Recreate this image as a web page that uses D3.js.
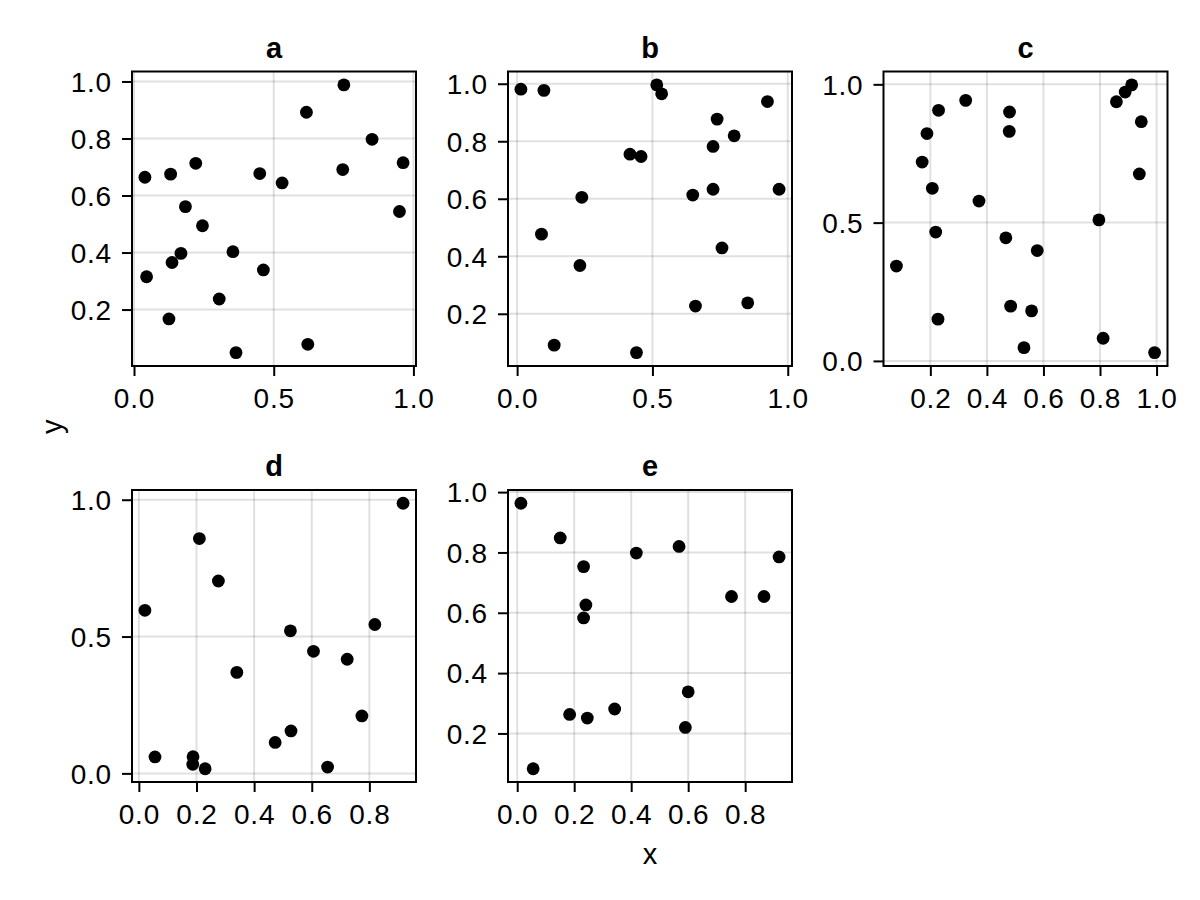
<!DOCTYPE html>
<html>
<head>
<meta charset="utf-8">
<script src="https://cdn.jsdelivr.net/npm/d3@7"></script>
<style>
  html, body { margin: 0; padding: 0; background: #fff; }
  svg { display: block; font-family: "Liberation Sans", Arial, "Helvetica", sans-serif; }
</style>
</head>
<body>
<svg id="chart" width="1200" height="900"></svg>
<script>
// ---- data ----
const panelNames = ["a", "b", "c", "d", "e"];

const aX = [0.039, 0.045, 0.131, 0.125, 0.136, 0.168, 0.184, 0.221, 0.245, 0.305, 0.354, 0.365, 0.450, 0.463, 0.530, 0.617, 0.622, 0.751, 0.747, 0.852, 0.963, 0.950];
const aY = [0.664, 0.315, 0.675, 0.167, 0.365, 0.397, 0.561, 0.713, 0.494, 0.237, 0.403, 0.049, 0.677, 0.339, 0.644, 0.892, 0.078, 0.988, 0.691, 0.797, 0.715, 0.544];

const bX = [0.014, 0.099, 0.090, 0.137, 0.239, 0.232, 0.417, 0.458, 0.441, 0.516, 0.534, 0.649, 0.659, 0.724, 0.739, 0.724, 0.802, 0.757, 0.852, 0.925, 0.968];
const bY = [0.981, 0.977, 0.477, 0.091, 0.605, 0.368, 0.755, 0.747, 0.065, 0.996, 0.965, 0.613, 0.227, 0.782, 0.877, 0.633, 0.819, 0.429, 0.238, 0.938, 0.633];

const cX = [0.080, 0.171, 0.188, 0.207, 0.219, 0.229, 0.227, 0.325, 0.372, 0.467, 0.480, 0.479, 0.484, 0.531, 0.558, 0.578, 0.796, 0.811, 0.858, 0.889, 0.912, 0.946, 0.939, 0.993];
const cY = [0.343, 0.719, 0.822, 0.624, 0.466, 0.906, 0.151, 0.942, 0.578, 0.445, 0.900, 0.830, 0.198, 0.048, 0.181, 0.399, 0.510, 0.082, 0.937, 0.972, 0.998, 0.865, 0.676, 0.030];

const dX = [0.021, 0.056, 0.188, 0.187, 0.230, 0.210, 0.276, 0.340, 0.473, 0.526, 0.528, 0.606, 0.655, 0.723, 0.774, 0.819, 0.917];
const dY = [0.596, 0.060, 0.061, 0.033, 0.017, 0.858, 0.703, 0.369, 0.113, 0.521, 0.155, 0.446, 0.023, 0.417, 0.210, 0.544, 0.987];

const eX = [0.013, 0.056, 0.151, 0.184, 0.233, 0.241, 0.233, 0.246, 0.342, 0.418, 0.568, 0.600, 0.590, 0.752, 0.866, 0.919];
const eY = [0.963, 0.083, 0.848, 0.263, 0.753, 0.626, 0.583, 0.251, 0.281, 0.798, 0.820, 0.338, 0.220, 0.654, 0.654, 0.785];

// tick values per panel
const xTicksA = [0, 0.5, 1.0];
const yTicksA = [0.2, 0.4, 0.6, 0.8, 1.0];
const xTicksB = [0, 0.5, 1.0];
const yTicksB = [0.2, 0.4, 0.6, 0.8, 1.0];
const xTicksC = [0.2, 0.4, 0.6, 0.8, 1.0];
const yTicksC = [0.0, 0.5, 1.0];
const xTicksD = [0.0, 0.2, 0.4, 0.6, 0.8];
const yTicksD = [0.0, 0.5, 1.0];
const xTicksE = [0.0, 0.2, 0.4, 0.6, 0.8];
const yTicksE = [0.2, 0.4, 0.6, 0.8, 1.0];

const xLabel = "x";
const yLabel = "y";

// ---- layout ----
const colLeft = [132, 508, 883.5];
const colW = 284;
const rowTop = [71.5, 490];
const rowH = [294.5, 292];

const panels = [
  { name: panelNames[0], xs: aX, ys: aY, xt: xTicksA, yt: yTicksA, col: 0, row: 0 },
  { name: panelNames[1], xs: bX, ys: bY, xt: xTicksB, yt: yTicksB, col: 1, row: 0 },
  { name: panelNames[2], xs: cX, ys: cY, xt: xTicksC, yt: yTicksC, col: 2, row: 0 },
  { name: panelNames[3], xs: dX, ys: dY, xt: xTicksD, yt: yTicksD, col: 0, row: 1 },
  { name: panelNames[4], xs: eX, ys: eY, xt: xTicksE, yt: yTicksE, col: 1, row: 1 }
];

const svg = d3.select("#chart");
const fmt = d3.format(".1f");
const tickFont = 28;

function padded(vals) {
  const [lo, hi] = d3.extent(vals);
  const p = (hi - lo) * 0.05;
  return [lo - p, hi + p];
}

panels.forEach(pn => {
  const L = colLeft[pn.col], T = rowTop[pn.row], W = colW, H = rowH[pn.row];
  const x = d3.scaleLinear().domain(padded(pn.xs)).range([L, L + W]);
  const y = d3.scaleLinear().domain(padded(pn.ys)).range([T + H, T]);
  const g = svg.append("g");

  // grid
  g.append("g").selectAll("line.vg").data(pn.xt).join("line")
    .attr("x1", d => x(d)).attr("x2", d => x(d))
    .attr("y1", T).attr("y2", T + H)
    .attr("stroke", "rgba(0,0,0,0.12)").attr("stroke-width", 2);
  g.append("g").selectAll("line.hg").data(pn.yt).join("line")
    .attr("y1", d => y(d)).attr("y2", d => y(d))
    .attr("x1", L).attr("x2", L + W)
    .attr("stroke", "rgba(0,0,0,0.12)").attr("stroke-width", 2);

  // points
  const pts = pn.xs.map((v, i) => [v, pn.ys[i]]);
  g.append("g").selectAll("circle").data(pts).join("circle")
    .attr("cx", d => x(d[0])).attr("cy", d => y(d[1]))
    .attr("r", 6.4).attr("fill", "#000");

  // axes
  const xa = g.append("g").attr("transform", `translate(0,${T + H})`)
    .call(d3.axisBottom(x).tickValues(pn.xt).tickFormat(fmt).tickSize(10).tickPadding(8).tickSizeOuter(0));
  const ya = g.append("g").attr("transform", `translate(${L},0)`)
    .call(d3.axisLeft(y).tickValues(pn.yt).tickFormat(fmt).tickSize(10).tickPadding(10).tickSizeOuter(0));
  [xa, ya].forEach(a => {
    a.select(".domain").remove();
    a.selectAll(".tick line").attr("stroke", "#000").attr("stroke-width", 2);
    a.selectAll(".tick text").attr("fill", "#000").style("font-size", tickFont + "px")
      .style("letter-spacing", "0.8px")
      .style("font-family", '"Liberation Sans", Arial, sans-serif');
  });
  xa.selectAll(".tick text").attr("dy", null).attr("y", 42).attr("dominant-baseline", "auto");
  ya.selectAll(".tick text").attr("dy", "0.35em");

  // frame
  g.append("rect").attr("x", L).attr("y", T).attr("width", W).attr("height", H)
    .attr("fill", "none").attr("stroke", "#000").attr("stroke-width", 2);

  // title
  g.append("text").attr("x", L + W / 2).attr("y", T - 14)
    .attr("text-anchor", "middle").style("font-size", "29px").style("font-weight", "bold")
    .text(pn.name);
});

// shared axis labels
svg.append("text").attr("x", colLeft[1] + colW / 2).attr("y", 864)
  .attr("text-anchor", "middle").style("font-size", "29px").text(xLabel);
const yMid = (rowTop[0] + rowTop[1] + rowH[1]) / 2;
svg.append("text").attr("transform", `translate(62,${yMid}) rotate(-90)`)
  .attr("text-anchor", "middle").style("font-size", "29px").text(yLabel);
</script>
</body>
</html>
